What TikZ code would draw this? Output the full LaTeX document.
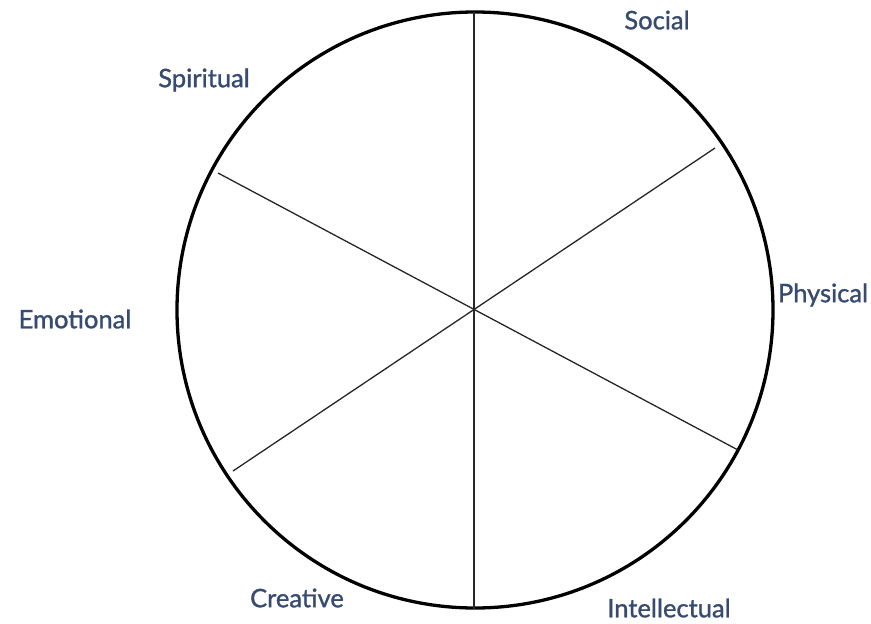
\documentclass[tikz,border=0pt]{standalone}
\usepackage{fontspec}
\setmainfont{Lato}[FakeBold=1.2]
\definecolor{lbl}{RGB}{55,75,112}
\begin{document}
\begin{tikzpicture}[x=1pt,y=-1pt,
  lab/.style={text=lbl,font=\fontsize{25.5}{28}\selectfont,inner sep=0pt},
  spoke/.style={draw=black!85,line width=1.3pt},
  rim/.style={draw=black,line width=3.3pt}]
\useasboundingbox (0,0) rectangle (871,624);
\coordinate (c) at (475,310);
\draw[rim] (c) circle[radius=298];
\coordinate (t) at (474,12);
\coordinate (b) at (474,609);
\coordinate (tr) at (715,148);
\coordinate (bl) at (233,471);
\coordinate (tl) at (218,173);
\coordinate (br) at (738,450);
\draw[spoke] (t) -- (b);
\draw[spoke] (tr) -- (bl);
\draw[spoke] (tl) -- (br);
\node[lab] (social) at (657,20) {Social};
\node[lab] (spiritual) at (204,80) {Spiritual};
\node[lab] (emotional) at (75,319) {Emotional};
\node[lab] (physical) at (823,295) {Physical};
\node[lab] (creative) at (297,598) {Creative};
\node[lab] (intellectual) at (669,608) {Intellectual};
\end{tikzpicture}
\end{document}
